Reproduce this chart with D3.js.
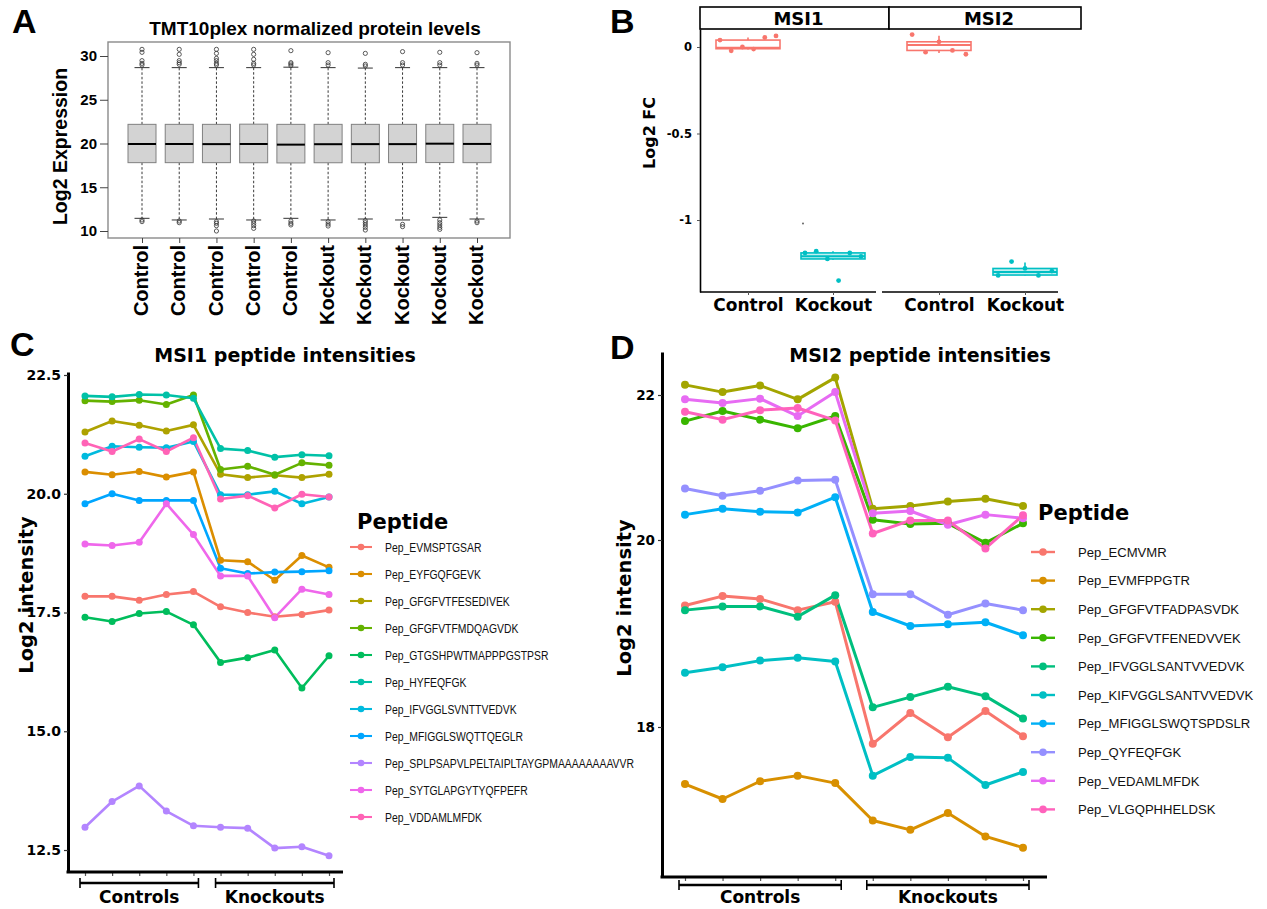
<!DOCTYPE html>
<html lang="en">
<head>
<meta charset="UTF-8">
<script src="https://d3js.org/d3.v7.min.js"></script>
<title>MSI1 / MSI2 knockout proteomics</title>
<style>
  body { margin: 0; background: #fff; }
  svg text { font-family: "Liberation Sans", Arial, sans-serif; }
</style>
</head>
<body>
<svg width="1267" height="909" id="mainsvg"></svg>
<script>
// ---------------- data ----------------
// A: TMT10plex boxplots
const samplesA = ['Control', 'Control', 'Control', 'Control', 'Control',
                  'Kockout', 'Kockout', 'Kockout', 'Kockout', 'Kockout'];
const lowA  = [11.45, 11.26, 11.37, 11.26, 11.45, 11.26, 11.37, 11.26, 11.56, 11.37];
const q1A   = [17.81, 17.81, 17.81, 17.8, 17.78, 17.8, 17.8, 17.81, 17.82, 17.81];
const medA  = [19.94, 19.94, 19.93, 19.94, 19.87, 19.92, 19.93, 19.93, 19.98, 19.95];
const q3A   = [22.19, 22.19, 22.19, 22.21, 22.19, 22.19, 22.19, 22.19, 22.19, 22.19];
const highA = [28.67, 28.67, 28.67, 28.67, 28.72, 28.67, 28.62, 28.67, 28.67, 28.67];
const outHighA = [
  [30.76, 30.42, 29.47, 29.16, 28.97],
  [30.76, 30.19, 29.47, 29.24, 29.05],
  [30.76, 30.3, 29.73, 29.47, 29.16, 28.97],
  [30.76, 30.19, 29.62, 29.16, 28.97],
  [30.61, 29.24, 29.09, 28.9],
  [30.38, 29.24, 28.97],
  [30.3, 29.05, 28.86],
  [30.5, 29.24, 28.97],
  [30.42, 29.24, 28.97],
  [30.38, 29.16, 28.97]
];
const outLowA = [
  [11.26, 11.07],
  [11.14, 10.95],
  [11.07, 10.88, 10.61, 10.0],
  [11.14, 10.88, 10.61, 10.3],
  [11.14, 10.88, 10.69],
  [11.07, 10.8, 10.57],
  [11.18, 10.95, 10.69, 10.42, 10.11],
  [10.76, 10.5],
  [11.26, 10.95, 10.69, 10.42, 10.19],
  [11.14, 10.95]
];
const ticksA = [10, 15, 20, 25, 30];

// B: Log2 FC per facet / group
const facetsB = ['MSI1', 'MSI2'];
const groupsB = ['Control', 'Kockout'];
const msi1Control = [0.04, -0.022, 0.0, -0.012, 0.055, 0.064];
const msi1Kockout = [-1.19, -1.18, -1.225, -1.35, -1.19, -1.21];
const msi2Control = [0.072, -0.03, 0.03, -0.02, -0.042];
const msi2Kockout = [-1.32, -1.24, -1.28, -1.32, -1.295];
// box stats: lower whisker, q1, median, q3, upper whisker
const msi1ControlBox = [-0.015, -0.01, -0.004, 0.04, 0.055];
const msi1KockoutBox = [-1.23, -1.225, -1.21, -1.19, -1.18];
const msi2ControlBox = [-0.035, -0.02, 0.012, 0.03, 0.065];
const msi2KockoutBox = [-1.32, -1.318, -1.30, -1.28, -1.245];
const msi1KockoutOut = [-1.02];
const ticksB = [0, -0.5, -1];

// C: MSI1 peptides
const samples = [1, 2, 3, 4, 5, 6, 7, 8, 9, 10];
const pepC = ['Pep_EVMSPTGSAR', 'Pep_EYFGQFGEVK', 'Pep_GFGFVTFESEDIVEK', 'Pep_GFGFVTFMDQAGVDK',
  'Pep_GTGSHPWTMAPPPGSTPSR', 'Pep_HYFEQFGK', 'Pep_IFVGGLSVNTTVEDVK', 'Pep_MFIGGLSWQTTQEGLR',
  'Pep_SPLPSAPVLPELTAIPLTAYGPMAAAAAAAAVVR', 'Pep_SYTGLAPGYTYQFPEFR', 'Pep_VDDAMLMFDK'];
const valuesC = [
  [17.84, 17.84, 17.76, 17.88, 17.94, 17.62, 17.50, 17.41, 17.46, 17.55],
  [20.46, 20.40, 20.47, 20.35, 20.46, 18.60, 18.57, 18.18, 18.70, 18.45],
  [21.30, 21.53, 21.44, 21.32, 21.45, 20.41, 20.34, 20.39, 20.34, 20.41],
  [21.96, 21.94, 21.97, 21.88, 22.08, 20.51, 20.58, 20.40, 20.65, 20.60],
  [17.40, 17.31, 17.48, 17.52, 17.24, 16.45, 16.55, 16.71, 15.91, 16.59],
  [22.06, 22.04, 22.09, 22.08, 22.01, 20.95, 20.91, 20.77, 20.82, 20.80],
  [20.79, 21.00, 20.98, 20.97, 21.10, 19.98, 19.98, 20.05, 19.79, 19.93],
  [19.79, 20.00, 19.86, 19.86, 19.86, 18.43, 18.32, 18.35, 18.36, 18.38],
  [12.98, 13.52, 13.85, 13.32, 13.01, 12.98, 12.96, 12.54, 12.57, 12.38],
  [18.94, 18.91, 18.98, 19.79, 19.14, 18.27, 18.27, 17.39, 17.99, 17.88],
  [21.07, 20.89, 21.15, 20.89, 21.18, 19.89, 19.96, 19.70, 19.99, 19.93]
];
const ticksC = [12.5, 15, 17.5, 20, 22.5];

// D: MSI2 peptides
const pepD = ['Pep_ECMVMR', 'Pep_EVMFPPGTR', 'Pep_GFGFVTFADPASVDK', 'Pep_GFGFVTFENEDVVEK',
  'Pep_IFVGGLSANTVVEDVK', 'Pep_KIFVGGLSANTVVEDVK', 'Pep_MFIGGLSWQTSPDSLR', 'Pep_QYFEQFGK',
  'Pep_VEDAMLMFDK', 'Pep_VLGQPHHELDSK'];
const valuesD = [
  [19.30, 19.40, 19.37, 19.25, 19.34, 17.82, 18.15, 17.89, 18.17, 17.90],
  [17.39, 17.23, 17.42, 17.48, 17.40, 17.00, 16.90, 17.08, 16.83, 16.71],
  [22.14, 22.04, 22.13, 21.94, 22.24, 20.43, 20.47, 20.53, 20.57, 20.47],
  [21.64, 21.78, 21.66, 21.54, 21.71, 20.28, 20.22, 20.23, 19.97, 20.23],
  [19.25, 19.29, 19.29, 19.18, 19.41, 18.21, 18.32, 18.43, 18.33, 18.09],
  [18.58, 18.64, 18.71, 18.74, 18.70, 17.48, 17.68, 17.67, 17.38, 17.52],
  [20.35, 20.43, 20.39, 20.38, 20.59, 19.23, 19.08, 19.10, 19.12, 18.98],
  [20.71, 20.61, 20.68, 20.82, 20.83, 19.42, 19.42, 19.20, 19.32, 19.25],
  [21.94, 21.89, 21.95, 21.71, 22.04, 20.37, 20.40, 20.21, 20.35, 20.30],
  [21.77, 21.66, 21.79, 21.82, 21.65, 20.09, 20.27, 20.27, 19.91, 20.34]
];
const ticksD = [18, 20, 22];
const groupLabels = ['Controls', 'Knockouts'];

// ggplot hue palettes
const hue11 = ['#F8766D', '#DB8E00', '#AEA200', '#64B200', '#00BD5C', '#00C1A7',
               '#00BADE', '#00A6FF', '#B385FF', '#EF67EB', '#FF63B6'];
const hue10 = ['#F8766D', '#D89000', '#A3A500', '#39B600', '#00BF7D', '#00BFC4',
               '#00B0F6', '#9590FF', '#E76BF3', '#FF62BC'];
const hue2 = ['#F8766D', '#00BFC4'];

const GG = '"DejaVu Sans", "Liberation Sans", sans-serif';
const svg = d3.select('#mainsvg');
svg.append('rect').attr('width', 1267).attr('height', 909).attr('fill', '#fff');

// panel letters
[['A', 12, 33], ['B', 610, 33], ['C', 10, 356], ['D', 610, 359]].forEach(([t, x, y]) => {
  svg.append('text').text(t).attr('x', x).attr('y', y)
    .attr('font-size', 34).attr('font-weight', 'bold');
});

function boldTicks(g, size, family) {
  g.attr('font-family', null).attr('font-size', null);
  g.selectAll('text').attr('font-size', size).attr('font-weight', 'bold')
    .attr('fill', '#000').style('font-family', family);
}

// ================= A =================
const gA = svg.append('g');
const frameA = { left: 108, right: 510, top: 42, bottom: 238 };
const xA = d3.scalePoint().domain(d3.range(samplesA.length)).range([142, 477]);
const yA = d3.scaleLinear().domain([10, 30]).range([231, 56]);
const boxW = 28, capW = 15;

gA.append('text').text('TMT10plex normalized protein levels')
  .attr('x', 315).attr('y', 35).attr('text-anchor', 'middle')
  .attr('font-size', 19).attr('font-weight', 'bold');

gA.append('rect').attr('x', frameA.left).attr('y', frameA.top)
  .attr('width', frameA.right - frameA.left).attr('height', frameA.bottom - frameA.top)
  .attr('fill', 'none').attr('stroke', '#8a8a8a').attr('stroke-width', 1.4);

const axA = gA.append('g').attr('transform', `translate(${frameA.left},0)`)
  .call(d3.axisLeft(yA).tickValues(ticksA).tickSize(8).tickPadding(3));
axA.select('.domain').remove();
axA.selectAll('line').attr('stroke', '#444');
boldTicks(axA, 15, '"Liberation Sans", Arial, sans-serif');

const axAx = gA.append('g').attr('transform', `translate(0,${frameA.bottom})`)
  .call(d3.axisBottom(xA).tickSize(5).tickFormat(i => samplesA[i]));
axAx.select('.domain').remove();
axAx.selectAll('line').attr('stroke', '#444');
boldTicks(axAx, 20, '"Liberation Sans", Arial, sans-serif');
axAx.selectAll('text').attr('transform', 'rotate(-90)')
  .attr('x', -7).attr('y', 0).attr('dy', '0.28em').attr('text-anchor', 'end');

gA.append('text').text('Log2 Expression')
  .attr('transform', `translate(67,${(yA(10) + yA(30)) / 2 + 3}) rotate(-90)`)
  .attr('text-anchor', 'middle').attr('font-size', 19.5).attr('font-weight', 'bold');

samplesA.forEach((s, i) => {
  const cx = xA(i);
  const g = gA.append('g');
  // whiskers
  g.append('line').attr('x1', cx).attr('x2', cx).attr('y1', yA(q3A[i])).attr('y2', yA(highA[i]))
    .attr('stroke', '#222').attr('stroke-dasharray', '2.5,2').attr('stroke-width', 0.9);
  g.append('line').attr('x1', cx).attr('x2', cx).attr('y1', yA(q1A[i])).attr('y2', yA(lowA[i]))
    .attr('stroke', '#222').attr('stroke-dasharray', '2.5,2').attr('stroke-width', 0.9);
  [highA[i], lowA[i]].forEach(v => {
    g.append('line').attr('x1', cx - capW / 2).attr('x2', cx + capW / 2)
      .attr('y1', yA(v)).attr('y2', yA(v)).attr('stroke', '#333').attr('stroke-width', 1);
  });
  g.append('rect').attr('x', cx - boxW / 2).attr('width', boxW)
    .attr('y', yA(q3A[i])).attr('height', yA(q1A[i]) - yA(q3A[i]))
    .attr('fill', '#d3d3d3').attr('stroke', '#808080').attr('stroke-width', 1);
  g.append('line').attr('x1', cx - boxW / 2).attr('x2', cx + boxW / 2)
    .attr('y1', yA(medA[i])).attr('y2', yA(medA[i])).attr('stroke', '#000').attr('stroke-width', 2);
  g.selectAll('circle').data(outHighA[i].concat(outLowA[i])).enter().append('circle')
    .attr('cx', cx).attr('cy', d => yA(d)).attr('r', 2.1)
    .attr('fill', 'none').attr('stroke', '#333').attr('stroke-width', 0.8);
});

// ================= B =================
const gB = svg.append('g');
const panelB = { left: 700, top: 29, bottom: 292 };
const yB = d3.scaleLinear().domain([-1.416, 0.104]).range([panelB.bottom, panelB.top]);
const facetX = [
  d3.scalePoint().domain(groupsB).range([748, 833]),
  d3.scalePoint().domain(groupsB).range([939, 1025])
];
const stripX = [[700, 889], [889, 1081]];
const axisLineX = [[700, 876], [882, 1058]];
const tableB = [
  { f: 0, grp: 'Control', pts: msi1Control, box: msi1ControlBox, out: [] },
  { f: 0, grp: 'Kockout', pts: msi1Kockout, box: msi1KockoutBox, out: msi1KockoutOut },
  { f: 1, grp: 'Control', pts: msi2Control, box: msi2ControlBox, out: [] },
  { f: 1, grp: 'Kockout', pts: msi2Kockout, box: msi2KockoutBox, out: [] }
];

facetsB.forEach((f, i) => {
  gB.append('rect').attr('x', stripX[i][0]).attr('y', 7)
    .attr('width', stripX[i][1] - stripX[i][0]).attr('height', panelB.top - 7)
    .attr('fill', '#fff').attr('stroke', '#000').attr('stroke-width', 1.6);
  gB.append('text').text(f).attr('x', (stripX[i][0] + stripX[i][1]) / 2 + 4).attr('y', 25)
    .attr('text-anchor', 'middle').attr('font-size', 18).attr('font-weight', 'bold')
    .style('font-family', GG);
  gB.append('line').attr('x1', axisLineX[i][0]).attr('x2', axisLineX[i][1])
    .attr('y1', panelB.bottom).attr('y2', panelB.bottom).attr('stroke', '#000').attr('stroke-width', 1.6);
  const ax = gB.append('g').attr('transform', `translate(0,${panelB.bottom})`)
    .call(d3.axisBottom(facetX[i]).tickSize(3).tickPadding(4));
  ax.select('.domain').remove();
  ax.selectAll('line').attr('stroke', '#555');
  boldTicks(ax, 17, GG);
});

const axB = gB.append('g').attr('transform', `translate(${panelB.left},0)`)
  .call(d3.axisLeft(yB).tickValues(ticksB).tickFormat(d => String(d)).tickSize(3).tickSizeOuter(0).tickPadding(5));
axB.select('.domain').attr('stroke', '#000').attr('stroke-width', 1.6);
axB.selectAll('.tick line').attr('stroke', '#555');
boldTicks(axB, 11.5, GG);

gB.append('text').text('Log2 FC')
  .attr('transform', `translate(655,133) rotate(-90)`)
  .attr('text-anchor', 'middle').attr('font-size', 16).attr('font-weight', 'bold')
  .style('font-family', GG);

const bw = 64;
tableB.forEach(d => {
  const cx = facetX[d.f](d.grp);
  const col = hue2[groupsB.indexOf(d.grp)];
  const [lo, q1, md, q3, hi] = d.box;
  const g = gB.append('g');
  g.append('line').attr('x1', cx).attr('x2', cx).attr('y1', yB(q3)).attr('y2', yB(hi))
    .attr('stroke', col).attr('stroke-width', 1.6);
  g.append('line').attr('x1', cx).attr('x2', cx).attr('y1', yB(q1)).attr('y2', yB(lo))
    .attr('stroke', col).attr('stroke-width', 1.6);
  g.append('rect').attr('x', cx - bw / 2).attr('width', bw)
    .attr('y', yB(q3)).attr('height', Math.max(1, yB(q1) - yB(q3)))
    .attr('fill', d.grp === 'Control' ? '#fff' : 'rgba(0,191,196,0.25)')
    .attr('stroke', col).attr('stroke-width', 1.6);
  g.append('line').attr('x1', cx - bw / 2).attr('x2', cx + bw / 2)
    .attr('y1', yB(md)).attr('y2', yB(md)).attr('stroke', col).attr('stroke-width', 2);
  g.selectAll('.out').data(d.out).enter().append('circle')
    .attr('cx', cx - bw / 2 + 2).attr('cy', v => yB(v)).attr('r', 0.9).attr('fill', '#555');
  const n = d.pts.length;
  g.selectAll('.pt').data(d.pts).enter().append('circle')
    .attr('cx', (v, i) => cx + ((i + 0.5) / n - 0.5) * bw * 1.05)
    .attr('cy', v => yB(v)).attr('r', 2.4).attr('fill', col);
});

// ================= C & D (line panels) =================
function linePanel(cfg) {
  const g = svg.append('g');
  const p = cfg.panel;
  const x = d3.scalePoint().domain(samples).range(cfg.xRange);
  const y = cfg.y;
  const line = d3.line().x((v, i) => x(samples[i])).y(v => y(v));

  g.append('text').text(cfg.title).attr('x', cfg.titleX).attr('y', cfg.titleY)
    .attr('text-anchor', 'middle').attr('font-size', 19).attr('font-weight', 'bold')
    .style('font-family', GG);

  // axes
  const ay = g.append('g').attr('transform', `translate(${p.left},0)`)
    .call(d3.axisLeft(y).tickValues(cfg.ticks).tickFormat(cfg.fmt).tickSize(4).tickSizeOuter(0).tickPadding(3));
  ay.select('.domain').attr('stroke', '#000').attr('stroke-width', 3);
  ay.selectAll('.tick line').attr('stroke', '#333').attr('stroke-width', 1.2);
  boldTicks(ay, cfg.tickFont, GG);

  const ax = g.append('g').attr('transform', `translate(0,${p.bottom})`)
    .call(d3.axisBottom(x).tickSize(4).tickFormat(''));
  ax.select('.domain').remove();
  ax.selectAll('line').attr('stroke', '#555').attr('stroke-width', 1.2);
  g.append('line').attr('x1', p.left - 1.5).attr('x2', p.right)
    .attr('y1', p.bottom).attr('y2', p.bottom).attr('stroke', '#000').attr('stroke-width', 3);

  // group brackets
  [[1, 5], [6, 10]].forEach(([a, b], k) => {
    const x1 = x(a) - cfg.brPad, x2 = x(b) + cfg.brPad, by = cfg.bracketY;
    g.append('line').attr('x1', x1).attr('x2', x2).attr('y1', by).attr('y2', by)
      .attr('stroke', '#000').attr('stroke-width', 2.6);
    [x1, x2].forEach(xx => g.append('line').attr('x1', xx).attr('x2', xx)
      .attr('y1', by - 5).attr('y2', by + 5).attr('stroke', '#000').attr('stroke-width', 1.6));
    g.append('text').text(groupLabels[k]).attr('x', (x1 + x2) / 2).attr('y', 903)
      .attr('text-anchor', 'middle').attr('font-size', 17).attr('font-weight', 'bold')
      .style('font-family', GG);
  });

  g.append('text').text('Log2 intensity')
    .attr('transform', `translate(${cfg.yTitleX},${cfg.yTitleY}) rotate(-90)`)
    .attr('text-anchor', 'middle').attr('font-size', 19.5).attr('font-weight', 'bold')
    .style('font-family', GG);

  // series
  cfg.values.forEach((vals, s) => {
    g.append('path').datum(vals).attr('d', line).attr('fill', 'none')
      .attr('stroke', cfg.colors[s]).attr('stroke-width', cfg.lw).attr('stroke-linejoin', 'round');
  });
  cfg.values.forEach((vals, s) => {
    g.selectAll(null).data(vals).enter().append('circle')
      .attr('cx', (v, i) => x(samples[i])).attr('cy', v => y(v))
      .attr('r', cfg.pr).attr('fill', cfg.colors[s]);
  });

  // legend
  const lg = g.append('g');
  lg.append('text').text('Peptide').attr('x', cfg.leg.x).attr('y', cfg.leg.titleY)
    .attr('font-size', 21).attr('font-weight', 'bold').style('font-family', GG);
  cfg.names.forEach((nm, i) => {
    const ly = cfg.leg.y0 + i * cfg.leg.step;
    const kx = cfg.leg.x - 7;
    lg.append('line').attr('x1', kx).attr('x2', kx + cfg.leg.keyW).attr('y1', ly).attr('y2', ly)
      .attr('stroke', cfg.colors[i]).attr('stroke-width', cfg.lw * 0.8);
    lg.append('circle').attr('cx', kx + cfg.leg.keyW / 2).attr('cy', ly).attr('r', cfg.pr * 0.95)
      .attr('fill', cfg.colors[i]);
    lg.append('g').attr('transform', `translate(${cfg.leg.textX},${ly}) scale(${cfg.leg.sx},1)`)
      .append('text').text(nm).attr('dy', '0.36em').attr('font-size', cfg.leg.font).attr('fill', '#111');
  });
}

const panelC = { left: 68, right: 343, top: 372, bottom: 872 };
linePanel({
  panel: panelC, xRange: [85, 329],
  y: d3.scaleLinear().domain([12.037, 22.563]).range([panelC.bottom, panelC.top]),
  ticks: ticksC, fmt: d3.format('.1f'), tickFont: 14,
  title: 'MSI1 peptide intensities', titleX: 285, titleY: 362,
  bracketY: 883, brPad: 5, yTitleX: 33, yTitleY: 595,
  values: valuesC, names: pepC, colors: hue11, lw: 2.6, pr: 3.5,
  leg: { x: 357, titleY: 529, y0: 547, step: 27, keyW: 22, textX: 385, font: 13, sx: 0.8 }
});

const panelD = { left: 662, right: 1047, top: 352, bottom: 877 };
linePanel({
  panel: panelD, xRange: [685, 1023],
  y: d3.scaleLinear().domain([16.396, 18, 20, 22, 22.593])
    .range([panelD.bottom, 727, 540, 395, panelD.top]),
  ticks: ticksD, fmt: d3.format('d'), tickFont: 13.5,
  title: 'MSI2 peptide intensities', titleX: 920, titleY: 362,
  bracketY: 885, brPad: 6, yTitleX: 631, yTitleY: 598,
  values: valuesD, names: pepD, colors: hue10, lw: 3, pr: 4,
  leg: { x: 1038, titleY: 520, y0: 552, step: 28.6, keyW: 24, textX: 1078, font: 13.5, sx: 0.97 }
});
</script>
</body>
</html>
